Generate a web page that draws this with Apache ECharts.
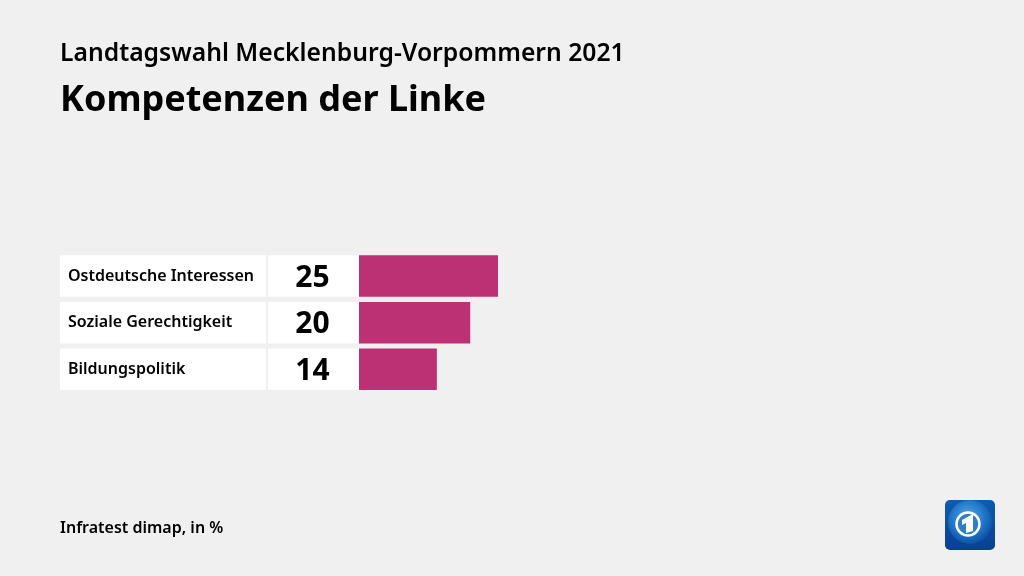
<!DOCTYPE html>
<html>
<head>
<meta charset="utf-8">
<title>Kompetenzen der Linke</title>
<style>
html, body { margin: 0; padding: 0; background: #f0f0f0; }
#chart { width: 1024px; height: 576px; }
</style>
<script src="https://cdn.jsdelivr.net/npm/echarts@6/dist/echarts.min.js"></script>
</head>
<body>
<div id="chart"></div>
<script>
var categories = ['Ostdeutsche Interessen', 'Soziale Gerechtigkeit', 'Bildungspolitik'];
var values = [25, 20, 14];
var subtitle = 'Landtagswahl Mecklenburg-Vorpommern 2021';
var title = 'Kompetenzen der Linke';
var source = 'Infratest dimap, in %';

var font = '"Noto Sans", sans-serif';
var barColor = '#bc3173';
var rowHeight = 41.5;

var myChart = echarts.init(document.getElementById('chart'));

// weisse Zellen: volle Breite der jeweiligen Spalte
var fullRow = categories.map(function() { return 1; });

function yAxis(index) {
    return {
        type: 'category', gridIndex: index, data: categories, inverse: true,
        axisLine: { show: false }, axisTick: { show: false }, axisLabel: { show: false }
    };
}
function xAxis(index, max) {
    return { type: 'value', gridIndex: index, min: 0, max: max, show: false };
}

var option = {
    backgroundColor: '#f0f0f0',
    animation: false,
    title: [
        { text: subtitle, left: 60, top: 41, padding: 0, textStyle: { fontFamily: font, fontSize: 24.7, fontWeight: 600, color: '#000' } },
        { text: title, left: 60, top: 83, padding: 0, textStyle: { fontFamily: font, fontSize: 36, fontWeight: 700, color: '#000' } },
        { text: source, left: 60, top: 520, padding: 0, textStyle: { fontFamily: font, fontSize: 16, fontWeight: 600, color: '#000' } }
    ],
    grid: [
        { left: 60, width: 206, top: 252.7, height: 140 },
        { left: 268, width: 91, top: 252.7, height: 140 },
        { left: 359, width: 556, top: 252.7, height: 140 }
    ],
    xAxis: [xAxis(0, 1), xAxis(1, 1), xAxis(2, 100)],
    yAxis: [yAxis(0), yAxis(1), yAxis(2)],
    series: [
        {
            type: 'bar', xAxisIndex: 0, yAxisIndex: 0, data: fullRow, barWidth: rowHeight,
            itemStyle: { color: '#fff' }, silent: true,
            label: {
                show: true, position: 'insideLeft', distance: 8,
                fontFamily: font, fontSize: 16, fontWeight: 600, color: '#000',
                formatter: function(p) { return categories[p.dataIndex]; }
            }
        },
        {
            type: 'bar', xAxisIndex: 1, yAxisIndex: 1, data: fullRow, barWidth: rowHeight,
            itemStyle: { color: '#fff' }, silent: true,
            label: {
                show: true, position: 'inside',
                fontFamily: font, fontSize: 30, fontWeight: 700, color: '#000',
                offset: [-1, 2],
                formatter: function(p) { return values[p.dataIndex]; }
            }
        },
        {
            type: 'bar', xAxisIndex: 2, yAxisIndex: 2, data: values, barWidth: rowHeight,
            itemStyle: { color: barColor }
        }
    ],
    // Senderlogo unten rechts
    graphic: [
        {
            type: 'rect', shape: { x: 945, y: 500, width: 50, height: 50, r: 5 },
            style: { fill: new echarts.graphic.LinearGradient(0, 0, 0, 1, [
                { offset: 0, color: '#0b5db0' },
                { offset: 1, color: '#0a3f92' }
            ]) }
        },
        {
            type: 'circle', shape: { cx: 970, cy: 522, r: 22 },
            style: { fill: new echarts.graphic.RadialGradient(0.45, 0.4, 0.65, [
                { offset: 0, color: '#5aa8e4' },
                { offset: 0.6, color: '#1f74c6' },
                { offset: 1, color: '#0a4a9c' }
            ]) }
        },
        {
            type: 'circle', shape: { cx: 968, cy: 524, r: 11.5 },
            style: { fill: '#2f7fc8', stroke: '#fff', lineWidth: 2.5 }
        },
        {
            type: 'polygon',
            shape: { points: [[962, 520], [973, 514], [973, 531], [966, 533], [966, 523], [962, 525]] },
            style: { fill: '#fff' }
        }
    ]
};

myChart.setOption(option);
</script>
</body>
</html>
